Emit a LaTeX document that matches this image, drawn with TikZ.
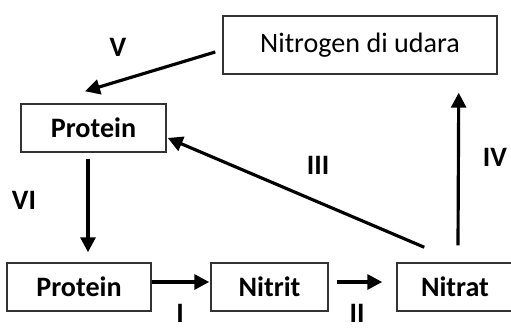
\documentclass[tikz,border=0pt]{standalone}
\usepackage{fontspec}
\setmainfont{Carlito}
\usetikzlibrary{arrows.meta}

\tikzset{
  box/.style={draw=black!80, line width=0.85pt, minimum height=0.96cm,
              inner sep=0pt, font=\fontsize{16}{19}\selectfont\bfseries},
  arr/.style={line width=1.8pt, -{Triangle[length=8.5pt, width=8.5pt]}},
  lbl/.style={inner sep=1pt, font=\fontsize{16}{19}\selectfont\bfseries}
}

\begin{document}
\begin{tikzpicture}[x=0.02cm, y=-0.02cm]
\fill[white] (0,0) rectangle (511,331);
\clip (0,0) rectangle (511,331);

% boxes
\node[box, minimum width=5.48cm, minimum height=1.16cm, font=\fontsize{16}{19}\selectfont]
    (nitrogen) at (360, 45) {Nitrogen di udara\hspace{0.46cm}};
\node[box, minimum width=2.90cm] (proteinA) at ( 93.5, 128) {Protein};
\node[box, minimum width=2.88cm] (proteinB) at ( 79,   287) {Protein};
\node[box, minimum width=2.34cm] (nitrit)   at (269.5, 287) {Nitrit};
\node[box, minimum width=2.32cm] (nitrat)   at (455,   287) {Nitrat};

% arrows
\draw[arr] ([shift={(-7, 7)}]nitrogen.west)
        -- ([shift={(-8.5, -12)}]proteinA.north); % V
\draw[arr] ([shift={(-5.5, 6)}]proteinA.south)
        -- ([shift={(9, -10)}]proteinB.north);    % VI
\draw[arr] ([shift={(0, -5)}]proteinB.east) -- ([shift={(-1, -5)}]nitrit.west); % I
\draw[arr] ([shift={(8, -5)}]nitrit.east) -- ([shift={(-14, -5)}]nitrat.west); % II
\draw[arr] ([shift={(28, -15)}]nitrat.north west)
        -- ([shift={(1, 10)}]proteinA.east);      % III
\draw[arr] ([shift={(3, -17)}]nitrat.north)
        -- ([shift={(-39, 18)}]nitrogen.south east); % IV

% labels
\node[lbl] (labV)   at (118,  47) {V};
\node[lbl] (labVI)  at ( 24, 200) {VI};
\node[lbl] (labIII) at (318, 165) {III};
\node[lbl] (labIV)  at (495, 157) {IV};
\node[lbl] (labI)   at (180, 313) {I};
\node[lbl] (labII)  at (357, 313) {II};
\end{tikzpicture}
\end{document}
